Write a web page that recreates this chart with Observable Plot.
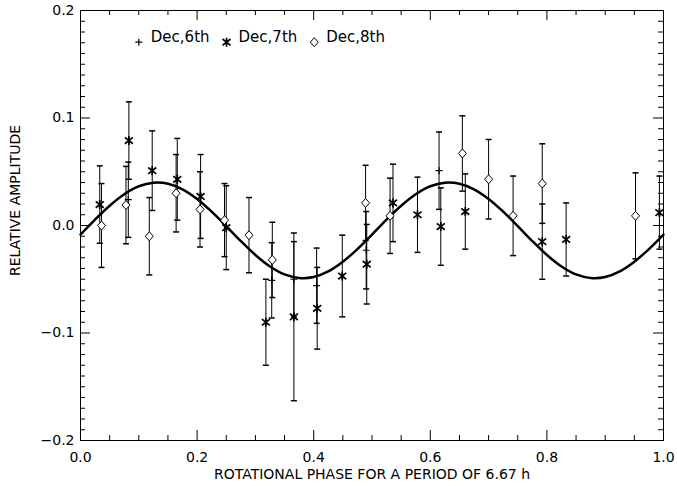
<!DOCTYPE html>
<html><head><meta charset="utf-8">
<script src="https://cdn.jsdelivr.net/npm/d3@7"></script>
<script src="https://cdn.jsdelivr.net/npm/@observablehq/plot@0.6"></script>
<style>html,body{margin:0;padding:0;background:#fff;} #chart svg{display:block;}</style>
</head><body><div id="chart"></div>
<script>
// ---- data: [phase, relative amplitude, error] ----
const dec6 = [
  [0.082, 0.024, 0.035],
  [0.328, -0.051, 0.035],
  [0.366, -0.050, 0.035],
  [0.405, -0.056, 0.035],
  [0.490, -0.023, 0.036],
  [0.615, 0.051, 0.036]
];
const dec7 = [
  [0.033, 0.0195, 0.036],
  [0.083, 0.079, 0.036],
  [0.123, 0.051, 0.037],
  [0.166, 0.043, 0.038],
  [0.206, 0.027, 0.039],
  [0.250, -0.002, 0.039],
  [0.318, -0.090, 0.040],
  [0.366, -0.085, 0.078],
  [0.406, -0.077, 0.038],
  [0.449, -0.047, 0.038],
  [0.491, -0.036, 0.037],
  [0.536, 0.021, 0.036],
  [0.578, 0.010, 0.035],
  [0.618, -0.001, 0.036],
  [0.660, 0.013, 0.035],
  [0.792, -0.015, 0.035],
  [0.833, -0.013, 0.034],
  [0.993, 0.012, 0.034]
];
const dec8 = [
  [0.036, 0.000, 0.039],
  [0.078, 0.019, 0.036],
  [0.118, -0.010, 0.036],
  [0.164, 0.030, 0.036],
  [0.205, 0.015, 0.035],
  [0.247, 0.005, 0.034],
  [0.289, -0.009, 0.035],
  [0.329, -0.032, 0.035],
  [0.489, 0.021, 0.035],
  [0.531, 0.009, 0.035],
  [0.655, 0.067, 0.035],
  [0.700, 0.043, 0.037],
  [0.742, 0.009, 0.037],
  [0.792, 0.039, 0.037],
  [0.952, 0.009, 0.040]
];
// fitted curve
const curveX = [0,0.025,0.05,0.075,0.1,0.125,0.15,0.175,0.2,0.225,0.25,0.275,0.3,0.325,0.35,0.375,0.4,0.425,0.45,0.475,0.5,
                0.525,0.55,0.575,0.6,0.625,0.65,0.675,0.7,0.725,0.75,0.775,0.8,0.825,0.85,0.875,0.9,0.925,0.95,0.975,1.0];
const curveY = [-0.0084,0.0055,0.0184,0.0291,0.0365,0.0398,0.0389,0.0337,0.0247,0.0129,-0.0006,-0.0145,-0.0274,-0.0381,-0.0455,-0.0488,-0.0479,-0.0427,-0.0337,-0.0219,-0.0084,
                0.0055,0.0184,0.0291,0.0365,0.0398,0.0389,0.0337,0.0247,0.0129,-0.0006,-0.0145,-0.0274,-0.0381,-0.0455,-0.0488,-0.0479,-0.0427,-0.0337,-0.0219,-0.0084];
const legendLabels = ["Dec,6th", "Dec,7th", "Dec,8th"];
const xTickValues = [0, 0.2, 0.4, 0.6, 0.8, 1.0];
const yTickValues = [-0.2, -0.1, 0.0, 0.1, 0.2];
const xTitle = "ROTATIONAL PHASE FOR A PERIOD OF 6.67 h";
const yTitle = "RELATIVE AMPLITUDE";

// ---- layout ----
const W = 677, H = 486, mL = 80, mR = 14, mT = 10, mB = 46;
const plotW = W - mL - mR, plotH = H - mT - mB;
const majorLen = 10, minorLen = 5;
const xMinor = d3.range(0, 21).map(i => i * 0.05).filter(v => Math.abs(v * 5 - Math.round(v * 5)) > 1e-6);
const yMinor = d3.range(-20, 21).map(i => i / 100).filter(v => Math.abs(v * 10 - Math.round(v * 10)) > 1e-6);

function seg(list) {
  return {draw(ctx) { for (const [a, b, c, d] of list) { ctx.moveTo(a, b); ctx.lineTo(c, d); } }};
}
const plusSym = seg([[-3.5, 0, 3.5, 0], [0, -3.5, 0, 3.5]]);
const starSym = seg([[0, -4.5, 0, 4.5], [-4, -3.2, 4, 3.2], [-4, 3.2, 4, -3.2]]);
const diamondSym = {draw(ctx) { ctx.moveTo(0, -4.5); ctx.lineTo(4, 0); ctx.lineTo(0, 4.5); ctx.lineTo(-4, 0); ctx.closePath(); }};
const capSym = seg([[-3, 0, 3, 0]]);

const rows = arr => arr.map(([x, y, e]) => ({x, y, e}));
const series = [
  {data: rows(dec6), sym: plusSym, fill: "none", sw: 1.2},
  {data: rows(dec7), sym: starSym, fill: "none", sw: 1.7},
  {data: rows(dec8), sym: diamondSym, fill: "white", sw: 1}
];
const curve = curveX.map((x, i) => ({x, y: curveY[i]}));
const legend = legendLabels.map((label, i) => ({label, i, x: 0.100 + i * 0.1505, y: 0.1705}));

const marks = [
  Plot.frame({stroke: "black", strokeWidth: 1}),
  // ticks on all four sides, pointing inward
  Plot.tickX(xTickValues, {x: d => d, insetTop: plotH - majorLen, stroke: "black"}),
  Plot.tickX(xTickValues, {x: d => d, insetBottom: plotH - majorLen, stroke: "black"}),
  Plot.tickX(xMinor, {x: d => d, insetTop: plotH - minorLen, stroke: "black"}),
  Plot.tickX(xMinor, {x: d => d, insetBottom: plotH - minorLen, stroke: "black"}),
  Plot.tickY(yTickValues, {y: d => d, insetRight: plotW - majorLen, stroke: "black"}),
  Plot.tickY(yTickValues, {y: d => d, insetLeft: plotW - majorLen, stroke: "black"}),
  Plot.tickY(yMinor, {y: d => d, insetRight: plotW - minorLen, stroke: "black"}),
  Plot.tickY(yMinor, {y: d => d, insetLeft: plotW - minorLen, stroke: "black"}),
  Plot.axisX(xTickValues, {tickSize: 0, tickPadding: 12, tickFormat: d3.format(".1f"), label: null}),
  Plot.axisY(yTickValues, {tickSize: 0, tickPadding: 6, tickFormat: d3.format(".1f"), label: null}),
  Plot.text([xTitle], {frameAnchor: "bottom", dy: 38, text: d => d, fontSize: 14, textAnchor: "middle"}),
  Plot.text([yTitle], {frameAnchor: "left", dx: -65, dy: -25, rotate: -90, text: d => d, fontSize: 14, textAnchor: "middle"})
];
for (const s of series) {
  marks.push(Plot.ruleX(s.data, {x: "x", y1: d => d.y - d.e, y2: d => d.y + d.e, stroke: "black", strokeWidth: 1}));
  marks.push(Plot.dot(s.data, {x: "x", y: d => d.y - d.e, symbol: capSym, r: 3, stroke: "black", fill: "none"}));
  marks.push(Plot.dot(s.data, {x: "x", y: d => d.y + d.e, symbol: capSym, r: 3, stroke: "black", fill: "none"}));
}
marks.push(Plot.line(curve, {x: "x", y: "y", curve: "catmull-rom", stroke: "black", strokeWidth: 2.5}));
for (const s of series) {
  marks.push(Plot.dot(s.data, {x: "x", y: "y", symbol: s.sym, r: 4, stroke: "black", fill: s.fill, strokeWidth: s.sw}));
}
series.forEach((s, i) => {
  marks.push(Plot.dot([legend[i]], {x: "x", y: "y", symbol: s.sym, r: 4, stroke: "black", fill: s.fill, strokeWidth: s.sw}));
});
marks.push(Plot.text(legend, {x: "x", y: "y", text: "label", dx: 12, textAnchor: "start", lineAnchor: "bottom", fontSize: 15}));

const chart = Plot.plot({
  width: W, height: H,
  marginLeft: mL, marginRight: mR, marginTop: mT, marginBottom: mB,
  x: {domain: [0, 1]},
  y: {domain: [-0.2, 0.2]},
  style: {fontFamily: "'DejaVu Sans', sans-serif", fontSize: "14px", color: "black", background: "white"},
  marks
});
document.getElementById("chart").append(chart);
</script>
</body></html>
